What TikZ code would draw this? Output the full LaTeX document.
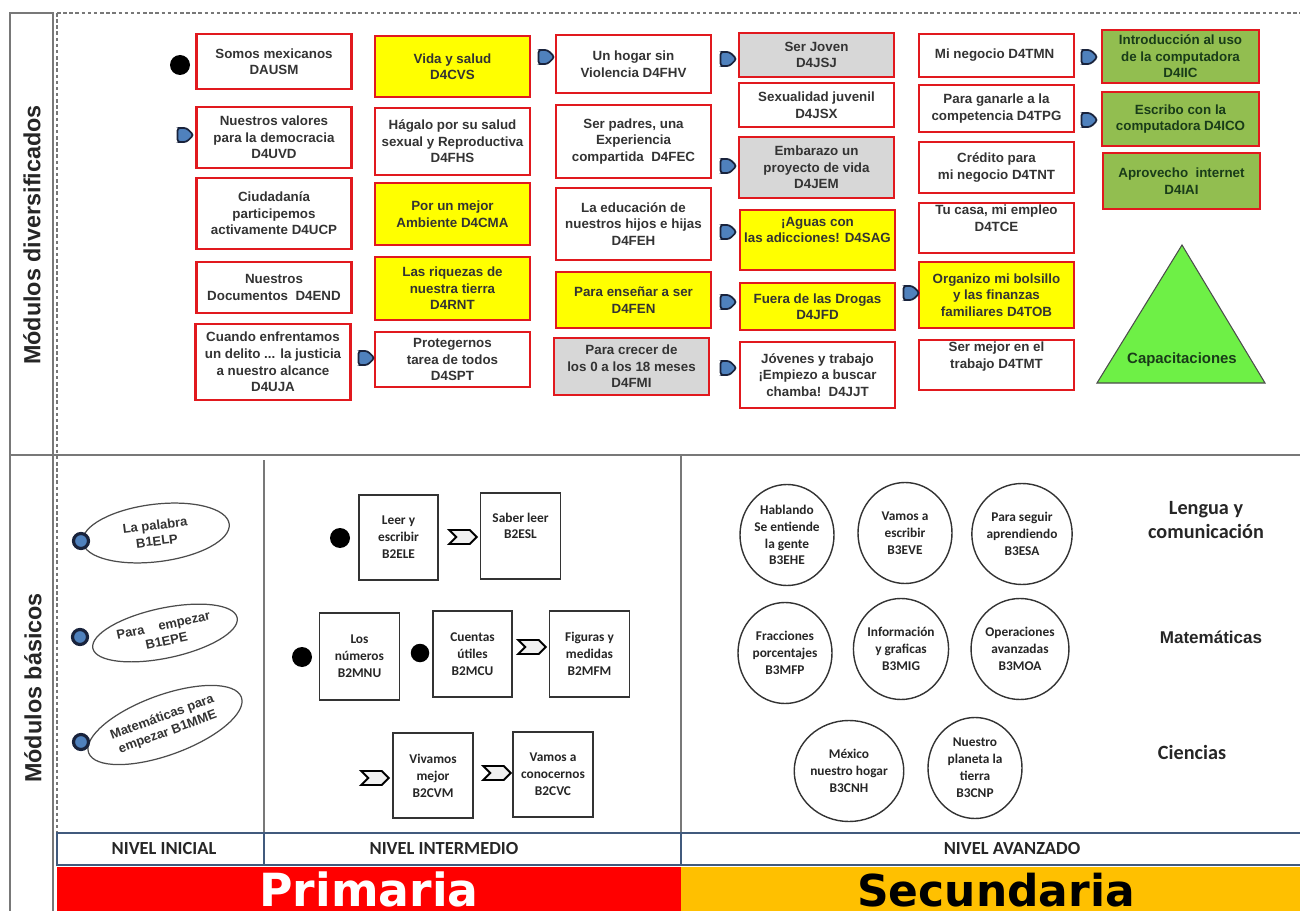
\documentclass[tikz,border=0pt]{standalone}
\usepackage{fontspec}
\setmainfont{Liberation Sans}
\newfontfamily\calibri{Carlito}
\newfontfamily\dejavu{DejaVu Sans}
\usetikzlibrary{shapes.geometric,shapes.symbols}

\definecolor{boxred}{RGB}{225,25,30}
\definecolor{boxyellow}{RGB}{255,255,0}
\definecolor{boxgrey}{RGB}{215,215,215}
\definecolor{boxgreen}{RGB}{146,190,80}
\definecolor{capgreen}{RGB}{110,240,70}
\definecolor{markblue}{RGB}{79,129,189}
\definecolor{markline}{RGB}{25,35,60}
\definecolor{nivelblue}{RGB}{65,90,125}
\definecolor{primred}{RGB}{255,0,0}
\definecolor{secgold}{RGB}{255,192,0}
\definecolor{framegrey}{RGB}{120,120,120}
\definecolor{textgreen}{RGB}{25,60,25}

\newcommand{\topfont}{\fontsize{7.6}{9.4}\selectfont\bfseries}
\newcommand{\ovalfont}{\fontsize{7.4}{9}\selectfont\bfseries}
\newcommand{\calfont}{\calibri\fontsize{7.6}{9.6}\selectfont\bfseries}

\begin{document}
\begin{tikzpicture}[
      redbox/.style={rectangle,
                     draw=boxred,
                     line width=1.6pt,
                     minimum width=3.1cm,
                     inner sep=1pt,
                     align=center,
                     text=black!80,
                     font=\topfont},
      yellowbox/.style={redbox,
                        fill=boxyellow},
      greybox/.style={redbox,
                      fill=boxgrey},
      greenbox/.style={redbox,
                       fill=boxgreen,
                       minimum width=3.14cm,
                       text=textgreen},
      tabmark/.style={signal,
                      signal to=east,
                      fill=markblue,
                      draw=markline,
                      line width=1pt,
                      rounded corners=1.5pt,
                      minimum width=0.32cm,
                      minimum height=0.28cm,
                      inner sep=0pt},
      startdot/.style={circle,
                       fill=black,
                       minimum size=0.4cm,
                       inner sep=0pt},
      bluedot/.style={circle,
                      fill=markblue,
                      draw=markline,
                      line width=1.8pt,
                      minimum size=0.3cm,
                      inner sep=0pt},
      ovbox/.style={ellipse,
                    draw=black!70,
                    line width=0.7pt,
                    align=center,
                    inner sep=0pt,
                    text=black!80,
                    font=\ovalfont},
      sqbox/.style={rectangle,
                    draw=black!80,
                    line width=0.9pt,
                    minimum width=1.6cm,
                    minimum height=1.72cm,
                    align=center,
                    text=black!85,
                    font=\calfont},
      chevron/.style={signal,
                      signal to=east,
                      signal from=west,
                      fill=black!6,
                      draw=black,
                      line width=1.1pt,
                      minimum width=0.55cm,
                      minimum height=0.28cm,
                      inner sep=0pt},
      circbox/.style={ellipse,
                      draw=black!80,
                      line width=0.8pt,
                      minimum width=1.88cm,
                      minimum height=2.02cm,
                      inner sep=0pt,
                      align=center,
                      text=black!85,
                      font=\calfont},
      gridline/.style={draw=framegrey,
                       line width=0.8pt},
      dashline/.style={draw=framegrey,
                       line width=0.6pt,
                       dash pattern=on 2pt off 1.5pt},
      nivelcell/.style={draw=nivelblue,
                        line width=1.6pt}
    ]

    \useasboundingbox (0,0) rectangle (26,-18.22);

    \draw[gridline] (0.2,-18.6) -- (0.2,-0.26) -- (1.06,-0.26) -- (1.06,-18.6);
    \draw[gridline] (0.2,-9.1) -- (26.2,-9.1);
    \draw[dashline] (1.14,-0.26) -- (26.2,-0.26);
    \draw[dashline] (1.14,-0.26) -- (1.14,-16.66);
    \draw[gridline] (5.28,-9.2) -- (5.28,-16.66);
    \draw[gridline] (13.62,-9.1) -- (13.62,-16.66);

    \draw (0.64,-4.7)
          node[rotate=90, font=\fontsize{13.3}{15}\selectfont\bfseries, text=black!85]
          (diversificados)
          { Módulos diversificados };
    \draw (0.66,-13.76)
          node[rotate=90, font=\fontsize{13.3}{15}\selectfont\bfseries, text=black!85]
          (basicos)
          { Módulos básicos };

    \draw (5.48,-1.23)
          node[redbox, minimum height=1.1cm]
          (dausm)
          { Somos mexicanos\\DAUSM };
    \draw (5.48,-2.75)
          node[redbox, minimum height=1.22cm]
          (d4uvd)
          { Nuestros valores\\para la democracia\\D4UVD };
    \draw (5.48,-4.27)
          node[redbox, minimum height=1.42cm]
          (d4ucp)
          { Ciudadanía\\participemos\\activamente D4UCP };
    \draw (5.48,-5.75)
          node[redbox, minimum height=1.02cm]
          (d4end)
          { Nuestros\\Documentos\ \ D4END };
    \draw (5.46,-7.24)
          node[redbox, minimum height=1.52cm]
          (d4uja)
          { Cuando enfrentamos\\un delito ... la justicia\\a nuestro alcance\\D4UJA };

    \draw (9.05,-1.33)
          node[yellowbox, minimum height=1.22cm]
          (d4cvs)
          { Vida y salud\\D4CVS };
    \draw (9.05,-2.83)
          node[redbox, minimum height=1.34cm]
          (d4fhs)
          { Hágalo por su salud\\sexual y Reproductiva\\D4FHS };
    \draw (9.05,-4.28)
          node[yellowbox, minimum height=1.24cm]
          (d4cma)
          { Por un mejor\\Ambiente D4CMA };
    \draw (9.05,-5.77)
          node[yellowbox, minimum height=1.26cm]
          (d4rnt)
          { Las riquezas de\\nuestra tierra\\D4RNT };
    \draw (9.05,-7.19)
          node[redbox, minimum height=1.1cm]
          (d4spt)
          { Protegernos\\tarea de todos\\D4SPT };

    \draw (12.67,-1.28)
          node[redbox, minimum height=1.16cm]
          (d4fhv)
          { Un hogar sin\\Violencia D4FHV };
    \draw (12.67,-2.83)
          node[redbox, minimum height=1.46cm]
          (d4fec)
          { Ser padres, una\\Experiencia\\compartida\ \ D4FEC };
    \draw (12.67,-4.48)
          node[redbox, minimum height=1.44cm]
          (d4feh)
          { La educación de\\nuestros hijos e hijas\\D4FEH };
    \draw (12.67,-6.0)
          node[yellowbox, minimum height=1.12cm]
          (d4fen)
          { Para enseñar a ser\\D4FEN };
    \draw (12.63,-7.33)
          node[greybox, minimum height=1.14cm]
          (d4fmi)
          { Para crecer de\\los 0 a los 18 meses\\D4FMI };

    \draw (16.33,-1.10)
          node[greybox, minimum height=0.88cm]
          (d4jsj)
          { Ser Joven\\D4JSJ };
    \draw (16.33,-2.10)
          node[redbox, minimum height=0.88cm]
          (d4jsx)
          { Sexualidad juvenil\\D4JSX };
    \draw (16.33,-3.35)
          node[greybox, minimum height=1.22cm]
          (d4jem)
          { Embarazo un\\proyecto de vida\\D4JEM };
    \draw (16.35,-4.80)
          node[yellowbox, minimum height=1.2cm]
          (d4sag)
          { ¡Aguas con\\las adicciones! D4SAG\\[2pt]~ };
    \draw (16.35,-6.13)
          node[yellowbox, minimum height=0.94cm]
          (d4jfd)
          { Fuera de las Drogas\\D4JFD };
    \draw (16.35,-7.50)
          node[redbox, minimum height=1.32cm]
          (d4jjt)
          { Jóvenes y trabajo\\¡Empiezo a buscar\\chamba!\ \ D4JJT };

    \draw (19.93,-1.11)
          node[redbox, minimum height=0.86cm]
          (d4tmn)
          { Mi negocio D4TMN };
    \draw (19.93,-2.17)
          node[redbox, minimum height=0.94cm]
          (d4tpg)
          { Para ganarle a la\\competencia D4TPG };
    \draw (19.93,-3.35)
          node[redbox, minimum height=1.02cm]
          (d4tnt)
          { Crédito para\\mi negocio D4TNT };
    \draw (19.93,-4.56)
          node[redbox, minimum height=1.0cm]
          (d4tce)
          { Tu casa, mi empleo\\D4TCE\\[2pt]~ };
    \draw (19.93,-5.90)
          node[yellowbox, minimum height=1.32cm]
          (d4tob)
          { Organizo mi bolsillo\\y las finanzas\\familiares D4TOB };
    \draw (19.93,-7.30)
          node[redbox, minimum height=1.0cm]
          (d4tmt)
          { Ser mejor en el\\trabajo D4TMT\\[2pt]~ };

    \draw (23.61,-1.13)
          node[greenbox, minimum height=1.06cm]
          (d4iic)
          { Introducción al uso\\de la computadora\\D4IIC };
    \draw (23.61,-2.38)
          node[greenbox, minimum height=1.08cm]
          (d4ico)
          { Escribo con la\\computadora D4ICO };
    \draw (23.63,-3.62)
          node[greenbox, minimum height=1.12cm]
          (d4iai)
          { Aprovecho\ \ internet\\D4IAI };

    \filldraw[fill=capgreen, draw=black!70, line width=0.6pt]
          (23.64,-4.90) -- (21.94,-7.66) -- (25.30,-7.66) -- cycle;
    \draw (23.64,-7.2)
          node[font=\fontsize{8.5}{10}\selectfont\bfseries, text=textgreen]
          (capacitaciones)
          { Capacitaciones };

    \draw (3.60,-1.30) node[startdot] (dausmdot) {};
    \draw (3.64,-2.70) node[tabmark] (uvdmark) {};
    \draw (7.26,-7.16) node[tabmark] (sptmark) {};
    \draw (10.86,-1.14) node[tabmark] (fhvmark) {};
    \draw (14.50,-1.18) node[tabmark] (jsjmark) {};
    \draw (14.50,-3.32) node[tabmark] (jemmark) {};
    \draw (14.50,-4.64) node[tabmark] (sagmark) {};
    \draw (14.50,-6.04) node[tabmark] (jfdmark) {};
    \draw (14.50,-7.36) node[tabmark] (jjtmark) {};
    \draw (18.16,-5.86) node[tabmark] (tobmark) {};
    \draw (21.72,-1.14) node[tabmark] (iicmark) {};
    \draw (21.72,-2.40) node[tabmark] (icomark) {};

    \draw (3.12,-10.66)
          node[ovbox, minimum width=2.95cm, minimum height=1.15cm, rotate=7]
          (b1elp)
          { La palabra\\B1ELP };
    \draw (3.30,-12.66)
          node[ovbox, minimum width=2.95cm, minimum height=1.0cm, rotate=12]
          (b1epe)
          { Para\ \ \ \ empezar\\B1EPE };
    \draw (3.30,-14.50)
          node[ovbox, minimum width=3.25cm, minimum height=1.2cm, rotate=20]
          (b1mme)
          { Matemáticas para\\empezar B1MME };
    \draw (1.62,-10.82) node[bluedot] (elpdot) {};
    \draw (1.60,-12.74) node[bluedot] (epedot) {};
    \draw (1.62,-14.84) node[bluedot] (mmedot) {};

    \draw (7.97,-10.75)
          node[sqbox, minimum width=1.58cm, minimum height=1.70cm]
          (b2ele)
          { Leer y\\escribir\\B2ELE };
    \draw (10.41,-10.72)
          node[sqbox]
          (b2esl)
          { Saber leer\\B2ESL\\[2pt]~ };
    \draw (7.19,-13.13)
          node[sqbox, minimum height=1.74cm]
          (b2mnu)
          { Los\\números\\B2MNU };
    \draw (9.45,-13.08)
          node[sqbox, minimum width=1.58cm]
          (b2mcu)
          { Cuentas\\útiles\\B2MCU };
    \draw (11.79,-13.08)
          node[sqbox]
          (b2mfm)
          { Figuras y\\medidas\\B2MFM };
    \draw (8.66,-15.51)
          node[sqbox, minimum height=1.70cm]
          (b2cvm)
          { Vivamos\\mejor\\B2CVM };
    \draw (11.06,-15.49)
          node[sqbox, minimum height=1.70cm]
          (b2cvc)
          { Vamos a\\conocernos\\B2CVC };

    \draw (6.80,-10.76) node[startdot] (eledot) {};
    \draw (6.04,-13.14) node[startdot] (mnudot) {};
    \draw (8.40,-13.06) node[startdot, minimum size=0.37cm] (mcudot) {};
    \draw (9.26,-10.74) node[chevron] (eslchev) {};
    \draw (10.64,-12.94) node[chevron] (mfmchev) {};
    \draw (7.50,-15.56) node[chevron] (cvmchev) {};
    \draw (9.94,-15.46) node[chevron] (cvcchev) {};

    \draw (15.74,-10.70)
          node[circbox]
          (b3ehe)
          { Hablando\\Se entiende\\la gente\\B3EHE };
    \draw (18.10,-10.66)
          node[circbox]
          (b3eve)
          { Vamos a\\escribir\\B3EVE };
    \draw (20.44,-10.68)
          node[circbox]
          (b3esa)
          { Para seguir\\aprendiendo\\B3ESA };
    \draw (15.70,-13.06)
          node[circbox]
          (b3mfp)
          { Fracciones\\porcentajes\\B3MFP };
    \draw (18.02,-12.98)
          node[circbox]
          (b3mig)
          { Información\\y graficas\\B3MIG };
    \draw (20.40,-12.98)
          node[circbox]
          (b3moa)
          { Operaciones\\avanzadas\\B3MOA };
    \draw (16.98,-15.42)
          node[circbox]
          (b3cnh)
          { México\\nuestro hogar\\B3CNH };
    \draw (19.50,-15.36)
          node[circbox]
          (b3cnp)
          { Nuestro\\planeta la\\tierra\\B3CNP };

    \draw (24.12,-10.40)
          node[align=center, font=\calibri\fontsize{11.5}{14}\selectfont\bfseries, text=black!85]
          (lengua)
          { Lengua y\\comunicación };
    \draw (24.22,-12.74)
          node[font=\fontsize{9.7}{12}\selectfont\bfseries, text=black!85]
          (matematicas)
          { Matemáticas };
    \draw (23.84,-15.04)
          node[font=\calibri\fontsize{11.5}{14}\selectfont\bfseries, text=black!85]
          (ciencias)
          { Ciencias };

    \draw[nivelcell] (1.14,-16.66) rectangle (26.3,-17.30);
    \draw[nivelcell] (5.28,-16.66) -- (5.28,-17.30);
    \draw[nivelcell] (13.62,-16.66) -- (13.62,-17.30);
    \fill[primred] (1.14,-17.34) rectangle (13.62,-18.4);
    \fill[secgold] (13.62,-17.34) rectangle (26.3,-18.4);

    \draw (3.28,-16.98)
          node[font=\calibri\fontsize{10.5}{12}\selectfont\bfseries, text=black!85]
          (inicial)
          { NIVEL INICIAL };
    \draw (8.88,-16.98)
          node[font=\calibri\fontsize{10.5}{12}\selectfont\bfseries, text=black!85]
          (intermedio)
          { NIVEL INTERMEDIO };
    \draw (20.24,-16.98)
          node[font=\calibri\fontsize{10.5}{12}\selectfont\bfseries, text=black!85]
          (avanzado)
          { NIVEL AVANZADO };
    \draw (7.38,-18.12)
          node[anchor=base, font=\dejavu\fontsize{26}{30}\selectfont\bfseries, text=white]
          (primaria)
          { Primaria };
    \draw (19.92,-18.12)
          node[anchor=base, font=\dejavu\fontsize{25}{30}\selectfont\bfseries, text=black]
          (secundaria)
          { Secundaria };

\end{tikzpicture}
\end{document}
